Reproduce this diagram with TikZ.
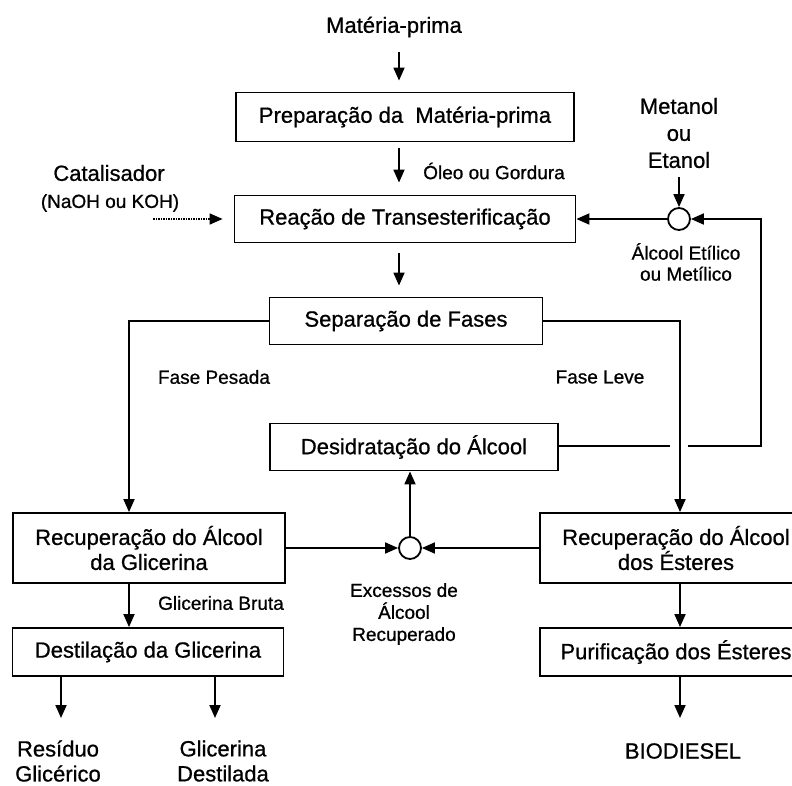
\documentclass[tikz,border=0pt]{standalone}
\usepackage{fontspec}
\setmainfont{Liberation Sans}[FakeBold=0.8,AutoFakeBold=0.8]
\usetikzlibrary{arrows.meta}

\newcommand\boxfont{\fontsize{22}{25}\selectfont\bfseries}
\newcommand\lblfont{\fontsize{19}{21}\selectfont\bfseries}

\begin{document}
\begin{tikzpicture}[x=1pt,y=-1pt,>={Triangle[length=13pt,width=11pt]},
  line width=1.8pt,
  box/.style={draw,minimum height=47pt,align=center,font=\boxfont},
  txt/.style={align=center,font=\boxfont},
  lbl/.style={align=center,font=\lblfont},
  mix/.style={draw,circle,fill=white,minimum size=22pt,inner sep=0pt},
  spaced/.style={shorten <=10pt,shorten >=11pt}]
\useasboundingbox (0,0) rectangle (792,786);
\clip (0,0) rectangle (792,786);

% process boxes
\node[box,minimum width=338pt,minimum height=49pt] (prep) at (405,117) {Preparação da\ \ Matéria-prima};
\node[box,minimum width=341pt] (reac) at (405,219) {Reação de Transesterificação};
\node[box,minimum width=273pt] (sep) at (406,321) {Separação de Fases};
\node[box,minimum width=288pt] (desid) at (414,447) {Desidratação do Álcool};
\node[box,minimum width=272pt,minimum height=70pt] (recg) at (149,548) {Recuperação do Álcool\\da Glicerina};
\node[box,minimum width=272pt,minimum height=70pt] (rece) at (676,548) {Recuperação do Álcool\\dos Ésteres};
\node[box,minimum width=271pt,minimum height=48pt] (destg) at (148,652) {Destilação da Glicerina};
\node[box,minimum width=272pt,minimum height=48pt] (pure) at (676,652) {Purificação dos Ésteres};

% mixing points
\node[mix] (m1) at (679,219) {};
\node[mix] (m2) at (410,548) {};

% inputs, outputs and stream names
\node[txt] (mp) at (394,27) {Matéria-prima};
\node[lbl] (oleo) at (494,171) {Óleo ou Gordura};
\node[txt] (cat) at (109,173) {Catalisador};
\node[lbl] (naoh) at (110,203) {(NaOH ou KOH)};
\node[txt,font=\fontsize{22}{27}\selectfont\bfseries] (met) at (679,133) {Metanol\\ou\\Etanol};
\node[lbl] (alc) at (686,262) {Álcool Etílico\\ou Metílico};
\node[lbl] (pes) at (214,377) {Fase Pesada};
\node[lbl] (lev) at (600,377) {Fase Leve};
\node[lbl,font=\fontsize{19}{22}\selectfont\bfseries] (exc) at (404,614) {Excessos de\\Álcool\\Recuperado};
\node[lbl] (bruta) at (221,603) {Glicerina Bruta};
\node[txt] (res) at (58,761) {Resíduo\\Glicérico};
\node[txt] (gdest) at (223,761) {Glicerina\\Destilada};
\node[txt] (bio) at (683,751) {BIODIESEL};

% helper points
\coordinate (mcol) at (399,0);
\coordinate (lcol) at (129,0);
\coordinate (rcol) at (680,0);
\coordinate (catin) at (153,219);
\coordinate (hopL) at (670,446);
\coordinate (hopR) at (688,446);
\coordinate (loop) at (761,446);
\coordinate (out1) at (61,718);
\coordinate (out2) at (215,718);
\coordinate (out3) at (680,718);

% main line
\draw[->,spaced] (mp.south -| mcol) -- (prep.north -| mcol);
\draw[->,shorten <=6pt,shorten >=12pt] (prep.south -| mcol) -- (reac.north -| mcol);
\draw[->,spaced] (reac.south -| mcol) -- (sep.north -| mcol);
\draw[->,dash pattern=on 1.5pt off 1pt,line width=1.5pt,shorten >=11pt] (catin) -- (reac);

% alcohol feed and recycle
\draw[->,shorten <=5pt] (met) -- (m1);
\draw[->] (m1) -- (reac);
\draw (desid.east |- hopL) -- (hopL);
\draw[->] (hopR) -- (loop) |- (m1);

% phase split
\draw[->] (sep.west) -| (recg.north -| lcol);
\draw[->] (sep.east) -| (rece.north -| rcol);
\draw[->] (recg) -- (m2);
\draw[->] (rece) -- (m2);
\draw[->] (m2) -- (desid.south -| m2);

% glycerin and ester side
\draw[->] (recg.south -| lcol) -- (destg.north -| lcol);
\draw[->] (rece.south -| rcol) -- (pure.north -| rcol);
\draw[->] (destg.south -| out1) -- (out1);
\draw[->] (destg.south -| out2) -- (out2);
\draw[->] (pure.south -| out3) -- (out3);
\end{tikzpicture}
\end{document}
